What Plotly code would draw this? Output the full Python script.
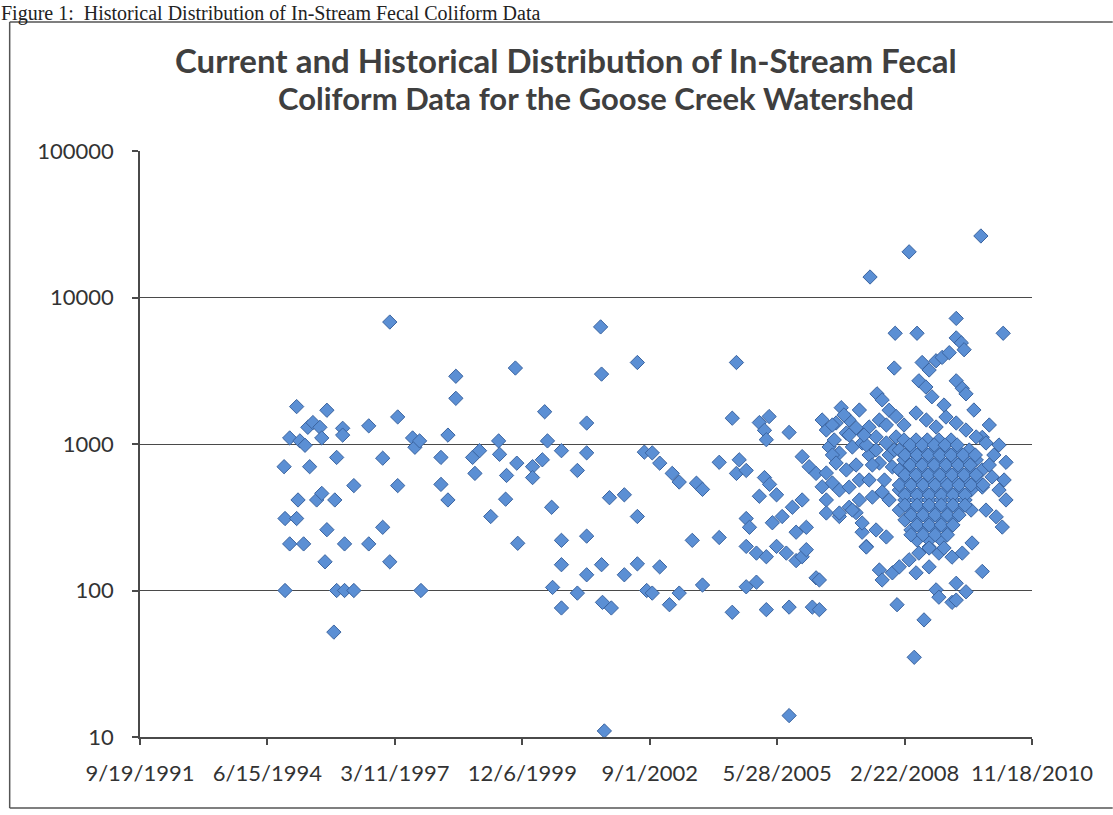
import plotly.graph_objects as go
import pandas as pd

# ---------------- data ----------------
tick_labels = ["9/19/1991", "6/15/1994", "3/11/1997", "12/6/1999",
               "9/1/2002", "5/28/2005", "2/22/2008", "11/18/2010"]
y_tick_values = [10, 100, 1000, 10000, 100000]
y_tick_labels = ["10", "100", "1000", "10000", "100000"]

# (decimal sample year, fecal coliform count)
obs_1994_1999 = [
    (1994.81, 700), (1994.83, 310), (1994.83, 100), (1994.93, 1100), (1994.93, 208),
    (1995.08, 1800), (1995.08, 310), (1995.11, 415), (1995.15, 1050), (1995.23, 208),
    (1995.26, 980), (1995.32, 1300), (1995.36, 700), (1995.43, 1400), (1995.51, 415),
    (1995.58, 1300), (1995.62, 1100), (1995.62, 460), (1995.69, 157), (1995.73, 1700),
    (1995.73, 260), (1995.88, 52), (1995.90, 415), (1995.94, 810), (1995.94, 100),
    (1996.07, 1280), (1996.07, 1150), (1996.11, 208), (1996.11, 100), (1996.31, 520),
    (1996.31, 100), (1996.63, 1330), (1996.63, 208), (1996.93, 800), (1996.93, 270),
    (1997.08, 6800), (1997.08, 157), (1997.25, 1530), (1997.25, 520), (1997.57, 1100),
    (1997.62, 950), (1997.72, 1050), (1997.75, 100), (1998.18, 810), (1998.18, 530),
    (1998.33, 1150), (1998.33, 415), (1998.50, 2900), (1998.50, 2050), (1998.86, 810),
    (1998.91, 630), (1999.01, 900), (1999.25, 320), (1999.42, 1050), (1999.44, 850),
    (1999.57, 420), (1999.59, 610), (1999.78, 3300), (1999.81, 740), (1999.83, 210),
]

obs_2000_2004 = [
    (2000.15, 700), (2000.15, 590), (2000.36, 780), (2000.41, 1660), (2000.47, 1050),
    (2000.56, 370), (2000.58, 105), (2000.77, 900), (2000.77, 220), (2000.77, 150),
    (2000.77, 76), (2001.11, 660), (2001.11, 96), (2001.31, 1390), (2001.31, 870),
    (2001.31, 235), (2001.31, 128), (2001.61, 6300), (2001.63, 3000), (2001.63, 150),
    (2001.65, 83), (2001.69, 11), (2001.80, 430), (2001.84, 76), (2002.12, 450),
    (2002.12, 128), (2002.40, 3600), (2002.40, 320), (2002.40, 152), (2002.55, 880),
    (2002.60, 100), (2002.72, 870), (2002.72, 96), (2002.88, 740), (2002.88, 145),
    (2003.09, 80), (2003.15, 630), (2003.30, 550), (2003.30, 96), (2003.58, 220),
    (2003.67, 540), (2003.80, 490), (2003.80, 109), (2004.16, 750), (2004.16, 230),
    (2004.44, 1500), (2004.44, 71), (2004.53, 3600), (2004.53, 630), (2004.59, 780),
    (2004.74, 660), (2004.74, 310), (2004.74, 200), (2004.74, 106), (2004.81, 270),
    (2004.96, 180), (2004.96, 114),
]

obs_2005_2007 = [
    (2005.02, 1400), (2005.02, 440), (2005.13, 1240), (2005.13, 590), (2005.17, 1070),
    (2005.17, 170), (2005.17, 74), (2005.23, 1540), (2005.24, 530), (2005.30, 290),
    (2005.39, 450), (2005.39, 200), (2005.51, 320), (2005.60, 180), (2005.66, 1200),
    (2005.66, 77), (2005.66, 14), (2005.73, 370), (2005.81, 250), (2005.81, 160),
    (2005.94, 820), (2005.94, 415), (2005.94, 170), (2006.03, 270), (2006.03, 190),
    (2006.09, 700), (2006.16, 77), (2006.24, 630), (2006.24, 122), (2006.37, 510),
    (2006.46, 415), (2006.74, 320), (2006.78, 1770), (2006.95, 370), (2007.10, 340),
    (2007.23, 250), (2007.32, 200), (2007.40, 13800), (2007.55, 2200), (2007.60, 138),
    (2007.66, 2000), (2007.66, 118), (2007.81, 1700), (2007.92, 3300), (2007.94, 5700),
    (2007.96, 1540), (2007.98, 80),
    (2006.46, 1246), (2006.67, 1391), (2006.89, 1189), (2006.52, 954), (2006.74, 869),
    (2007.02, 954), (2007.23, 1016), (2006.46, 634), (2006.59, 542), (2006.46, 338),
    (2006.74, 485), (2006.95, 508), (2007.17, 568), (2007.38, 1306), (2007.53, 1117),
    (2007.75, 1016), (2007.96, 1117), (2007.60, 742), (2007.88, 697), (2006.74, 338),
    (2007.02, 354), (2007.23, 289), (2007.53, 259), (2007.75, 232), (2007.32, 198),
    (2007.88, 132), (2006.31, 118), (2006.31, 74), (2006.37, 1458), (2006.95, 1458),
    (2007.17, 1706), (2006.59, 841), (2007.38, 841), (2007.71, 568), (2007.45, 434),
    (2007.81, 415), (2007.10, 719),
    (2006.84, 1578), (2006.63, 1065), (2007.10, 1290), (2007.32, 984), (2007.60, 1458),
    (2007.53, 910), (2007.81, 841), (2007.17, 415), (2006.89, 665), (2007.38, 568),
    (2007.66, 470),
    (2006.59, 1348), (2006.95, 1150), (2007.27, 1150), (2007.75, 1348), (2007.92, 910),
    (2007.45, 719), (2008.03, 665), (2006.67, 742),
]

obs_2008_2010 = [
    (2008.03, 145), (2008.24, 20500), (2008.35, 35), (2008.39, 132), (2008.41, 5700),
    (2008.45, 2700), (2008.52, 3600), (2008.56, 63), (2008.60, 2450), (2008.67, 3200),
    (2008.67, 145), (2008.73, 2100), (2008.82, 3700), (2008.82, 101), (2008.88, 90),
    (2008.95, 3900), (2009.10, 4200), (2009.16, 83), (2009.25, 7200), (2009.25, 5300),
    (2009.25, 2700), (2009.25, 112), (2009.36, 4900), (2009.38, 2400), (2009.42, 4400),
    (2009.46, 98), (2009.81, 1110), (2009.81, 135), (2010.32, 750), (2009.78, 26300),
    (2010.26, 5700), (2009.46, 2200),
    (2008.39, 1628), (2008.61, 1458), (2008.82, 1306), (2009.03, 1528), (2009.25, 1391),
    (2009.46, 1246), (2009.68, 1117), (2009.89, 1016), (2010.02, 596), (2009.81, 508),
    (2010.17, 485), (2010.32, 415), (2009.89, 354), (2010.11, 318), (2010.24, 271),
    (2008.24, 162), (2008.45, 180), (2008.67, 198), (2008.88, 180), (2009.16, 169),
    (2009.38, 180), (2009.59, 211), (2009.25, 86),
    (2008.13, 1348), (2008.99, 1845), (2009.63, 1706), (2009.96, 1348), (2010.17, 984),
    (2010.06, 841), (2010.28, 568),
    # dense core of 2008-2009 samples
    (2008.13, 1065), (2008.39, 1065), (2008.63, 1065), (2008.88, 1065), (2009.14, 1065),
    (2008.03, 910), (2008.28, 910), (2008.52, 910), (2008.78, 910), (2009.01, 910),
    (2009.27, 910), (2009.53, 910),
    (2008.13, 778), (2008.39, 778), (2008.65, 778), (2008.90, 778), (2009.16, 778),
    (2009.42, 778), (2009.68, 778),
    (2008.03, 665), (2008.26, 665), (2008.52, 665), (2008.78, 665), (2009.03, 665),
    (2009.29, 665), (2009.55, 665), (2009.81, 665),
    (2008.15, 568), (2008.41, 568), (2008.67, 568), (2008.93, 568), (2009.18, 568),
    (2009.44, 568), (2009.70, 568),
    (2008.03, 485), (2008.28, 485), (2008.54, 485), (2008.80, 485), (2009.06, 485),
    (2009.31, 485), (2009.57, 485),
    (2008.15, 415), (2008.41, 415), (2008.67, 415), (2008.93, 415), (2009.18, 415),
    (2009.44, 415),
    (2008.03, 354), (2008.28, 354), (2008.54, 354), (2008.80, 354), (2009.06, 354),
    (2009.31, 354), (2009.57, 354),
    (2008.15, 303), (2008.41, 303), (2008.67, 303), (2008.93, 303), (2009.18, 303),
    (2008.28, 259), (2008.54, 259), (2008.80, 259), (2009.06, 259),
    (2008.41, 221), (2008.67, 221), (2008.93, 221),
    (2008.26, 984), (2008.52, 984), (2008.78, 984), (2009.01, 984), (2009.27, 984),
    (2008.15, 841), (2008.41, 841), (2008.65, 841), (2008.90, 841), (2009.14, 841),
    (2009.40, 841), (2009.66, 841),
    (2008.26, 719), (2008.52, 719), (2008.78, 719), (2009.03, 719), (2009.29, 719),
    (2009.55, 719), (2009.96, 719),
    (2008.15, 615), (2008.39, 615), (2008.65, 615), (2008.90, 615), (2009.16, 615),
    (2009.42, 615), (2009.68, 615),
    (2008.03, 525), (2008.28, 525), (2008.54, 525), (2008.80, 525), (2009.06, 525),
    (2009.31, 525), (2009.57, 525), (2009.83, 525),
    (2008.15, 449), (2008.41, 449), (2008.67, 449), (2008.93, 449), (2009.18, 449),
    (2009.44, 449),
    (2008.15, 383), (2008.41, 383), (2008.67, 383), (2008.93, 383), (2009.18, 383),
    (2009.44, 383),
    (2008.28, 328), (2008.54, 328), (2008.80, 328), (2009.06, 328), (2009.31, 328),
    (2008.41, 280), (2008.67, 280), (2008.93, 280), (2009.18, 280),
    (2008.28, 240), (2008.54, 240), (2008.80, 240), (2009.06, 240),
    (2008.67, 195), (2008.99, 195),
]

# ---------------- assemble ----------------
all_obs = obs_1994_1999 + obs_2000_2004 + obs_2005_2007 + obs_2008_2010


def year_to_date(y):
    yr = int(y)
    return pd.Timestamp(year=yr, month=1, day=1) + pd.Timedelta(days=(y - yr) * 365.25)


dates = [year_to_date(o[0]) for o in all_obs]
values = [o[1] for o in all_obs]
tick_dates = list(pd.to_datetime(tick_labels, format="%m/%d/%Y"))

AX = "#4a4a4a"
TICK_FONT = dict(family="Lato, Calibri, sans-serif", size=22, color="#333333")

fig = go.Figure(go.Scatter(
    x=dates, y=values, mode="markers",
    marker=dict(symbol="diamond", size=11, color="#5b8fd4",
                line=dict(color="#3b64a0", width=1)),
    showlegend=False, hoverinfo="skip",
))

fig.update_layout(
    width=1113, height=815,
    margin=dict(l=140, r=81, t=151, b=78),
    paper_bgcolor="white", plot_bgcolor="white",
    xaxis=dict(type="date", range=[tick_dates[0], tick_dates[-1]],
               tickvals=tick_dates, ticktext=tick_labels,
               showgrid=False, zeroline=False,
               showline=True, linecolor=AX, linewidth=1.5,
               ticks="outside", ticklen=6, tickcolor=AX, tickwidth=1.5,
               ticklabelstandoff=10, tickfont=TICK_FONT),
    yaxis=dict(type="log", range=[1, 5],
               tickvals=y_tick_values, ticktext=y_tick_labels,
               showgrid=True, gridcolor=AX, gridwidth=1.3, zeroline=False,
               showline=True, linecolor=AX, linewidth=1.5,
               ticks="outside", ticklen=6, tickcolor=AX, tickwidth=1.5,
               ticklabelstandoff=14, tickfont=TICK_FONT),
)

fig.add_annotation(text="<b>Current and Historical Distribution of In-Stream Fecal</b>",
                   xref="paper", yref="paper", x=0.478, y=1.155,
                   xanchor="center", yanchor="middle", showarrow=False,
                   font=dict(family="Lato, Calibri, sans-serif", size=33, color="#3f3f3f"))
fig.add_annotation(text="<b>Coliform Data for the Goose Creek Watershed</b>",
                   xref="paper", yref="paper", x=0.511, y=1.090,
                   xanchor="center", yanchor="middle", showarrow=False,
                   font=dict(family="Lato, Calibri, sans-serif", size=31, color="#3f3f3f"))

# page caption above the chart
fig.add_annotation(text="Figure 1:  Historical Distribution of In-Stream Fecal Coliform Data",
                   xref="paper", yref="paper", x=-0.158, y=(737 - 27) / 586,
                   xanchor="left", yanchor="bottom", showarrow=False,
                   font=dict(family="Liberation Serif, Times New Roman, serif", size=20,
                             color="#222222"))

# chart border (top, left and bottom edges; it runs on past the right page edge)
bx0, bx1 = -0.1461, 1.0905
by0, by1 = (737 - 808) / 586, (737 - 22) / 586
border = dict(color="#555555", width=1.5)
for x0, y0, x1, y1 in [(bx0, by1, bx1, by1), (bx0, by0, bx0, by1), (bx0, by0, bx1, by0)]:
    fig.add_shape(type="line", xref="paper", yref="paper",
                  x0=x0, y0=y0, x1=x1, y1=y1, line=border, layer="below")

fig.write_html("out.html", config={"displayModeBar": False},
               post_script="document.body.style.margin='0';")
